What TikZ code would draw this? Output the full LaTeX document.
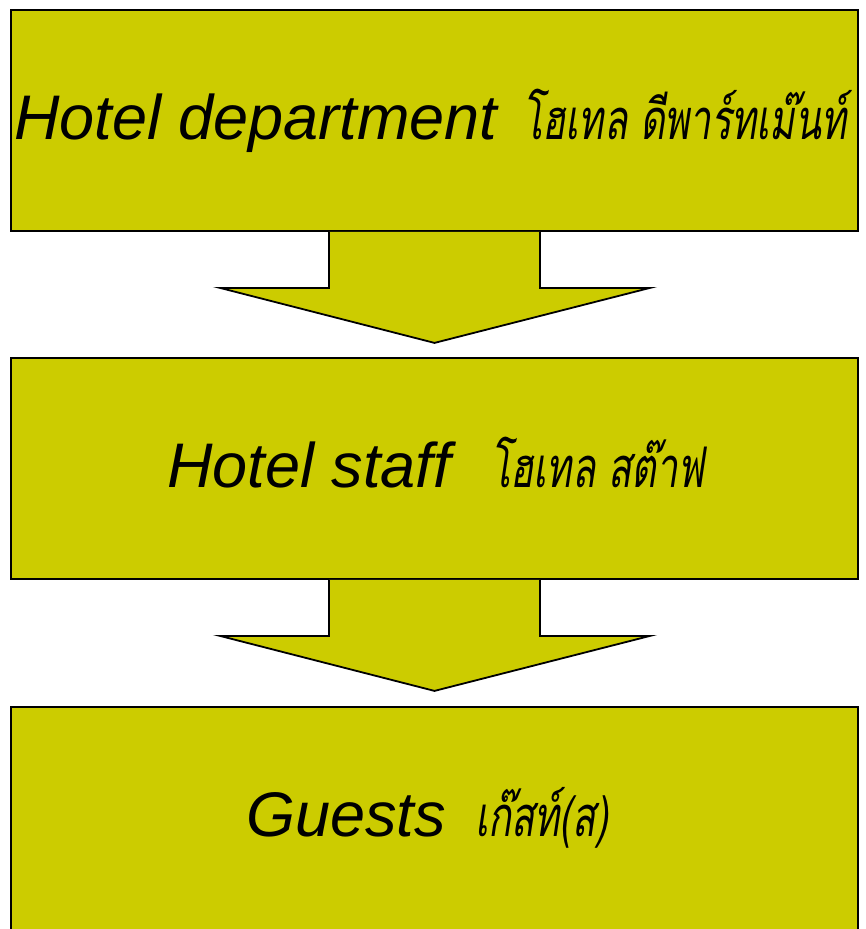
\documentclass[tikz,border=0pt]{standalone}
\usepackage{fontspec}
\setmainfont{Liberation Sans}
\newfontfamily\thaifont[Script=Thai,FakeSlant=0.15,FakeStretch=0.68]{Loma}
\definecolor{olivey}{RGB}{204,204,0}
\tikzset{
  stagebox/.style={rectangle, draw=black, line width=1.8pt, fill=olivey, minimum width=847pt, minimum height=221pt, inner sep=0pt},
  entext/.style={inner sep=0pt, font=\fontsize{63}{70}\selectfont\itshape},
  thtext/.style={inner sep=0pt, font=\fontsize{56}{64}\thaifont},
  arrowfill/.style={fill=olivey},
  arrowline/.style={draw=black, line width=1.8pt, line join=miter}
}
\begin{document}
\begin{tikzpicture}[x=1pt,y=-1pt]
\useasboundingbox (0,0) rectangle (866,929);
\clip (0,0) rectangle (866,929);
\node[stagebox] (box1) at (434.5,120.5) {};
\node[stagebox] (box2) at (434.5,468.5) {};
\node[stagebox, minimum height=260pt, anchor=north] (box3) at (434.5,706) {};
% arrows
\foreach \a/\b in {box1/box2, box2/box3}{
  \fill[arrowfill] ([xshift=-105.5pt]\a.south) -- ([xshift=-105.5pt,yshift=-56pt]\a.south)
     -- ([xshift=-214.5pt,yshift=-56pt]\a.south) -- ([yshift=-111pt]\a.south)
     -- ([xshift=215.5pt,yshift=-56pt]\a.south) -- ([xshift=105.5pt,yshift=-56pt]\a.south)
     -- ([xshift=105.5pt]\a.south) -- cycle;
  \draw[arrowline] ([xshift=-105.5pt]\a.south) -- ([xshift=-105.5pt,yshift=-56pt]\a.south)
     -- ([xshift=-214.5pt,yshift=-56pt]\a.south) -- ([yshift=-111pt]\a.south)
     -- ([xshift=215.5pt,yshift=-56pt]\a.south) -- ([xshift=105.5pt,yshift=-56pt]\a.south)
     -- ([xshift=105.5pt]\a.south);
}
% texts
\node[entext, anchor=base west] (e1) at (14,139) {Hotel department};
\node[thtext, anchor=base west] (h1) at (522,139) {โฮเทล ดีพาร์ทเม๊นท์};
\node[entext, anchor=base west] (e2) at (167,487) {Hotel staff};
\node[thtext, anchor=base west] (h2) at (490,487) {โฮเทล สต๊าฟ};
\node[entext, anchor=base west] (e3) at (246,836) {Guests};
\node[thtext, anchor=base west] (h3) at (475,836) {เก๊สท์(ส)};
\end{tikzpicture}
\end{document}
